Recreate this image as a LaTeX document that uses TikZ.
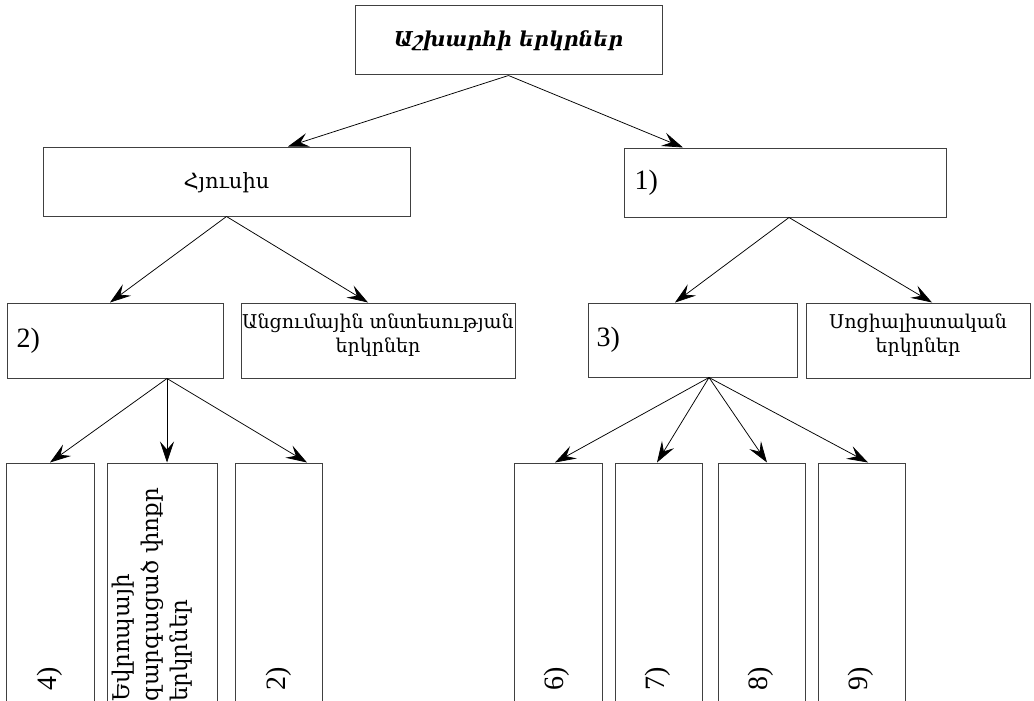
\documentclass[tikz,border=0pt]{standalone}
\usepackage{fontspec}
\setmainfont{Liberation Serif}
\newfontfamily\arm{DejaVu Serif}
\usetikzlibrary{arrows.meta}
\begin{document}
\begin{tikzpicture}[x=1pt,y=-1pt,
  box/.style={draw=black!75, line width=1pt, rectangle, inner sep=0pt},
  arr/.style={-{Stealth[length=21pt,width=14pt,inset=8pt]}, line width=0.75pt, black},
  armtxt/.style={font=\arm\fontsize{19}{24}\selectfont, align=center, inner sep=0pt},
  numtxt/.style={font=\fontsize{28}{30}\selectfont, inner sep=0pt}]
\useasboundingbox (0,0) rectangle (1034,701);
% boxes
\node[box, minimum width=307, minimum height=69] (top) at (508.5,40.5) {};
\node[box, minimum width=367, minimum height=69] (hy) at (226.5,181.5) {};
\node[box, minimum width=322, minimum height=69] (one) at (785,182.5) {};
\node[box, minimum width=216, minimum height=75] (two) at (115,340.5) {};
\node[box, minimum width=274, minimum height=75] (anc) at (378,340.5) {};
\node[box, minimum width=209, minimum height=74] (three) at (692.5,340) {};
\node[box, minimum width=224, minimum height=75] (soc) at (918,340.5) {};
\node[box, minimum width=88, minimum height=257] (b4) at (50,591.5) {};
\node[box, minimum width=110, minimum height=257] (b5) at (162,591.5) {};
\node[box, minimum width=87, minimum height=257] (b2) at (278.5,591.5) {};
\node[box, minimum width=88, minimum height=257] (b6) at (558,591.5) {};
\node[box, minimum width=87, minimum height=257] (b7) at (658.5,591.5) {};
\node[box, minimum width=87, minimum height=257] (b8) at (761.5,591.5) {};
\node[box, minimum width=87, minimum height=257] (b9) at (861.5,591.5) {};
% texts
\node[armtxt, font=\arm\bfseries\itshape\fontsize{20.5}{24}\selectfont] (ttop) at (top) {Աշխարհի երկրներ};
\node[armtxt, font=\arm\fontsize{21}{24}\selectfont] (thy) at ([yshift=-1]hy) {Հյուսիս};
\node[numtxt, anchor=west] (tone) at ([xshift=11]one.west) {1)};
\node[numtxt, anchor=west] (ttwo) at ([xshift=10]two.west) {2)};
\node[numtxt, anchor=west] (tthree) at ([xshift=9]three.west) {3)};
\node[armtxt, anchor=north] (tanc) at ([yshift=-11]anc.north) {Անցումային տնտեսության\\երկրներ};
\node[armtxt, anchor=north] (tsoc) at ([yshift=-11]soc.north) {Սոցիալիստական\\երկրներ};
\node[numtxt, rotate=90] (t4) at (50,679) {4)};
\node[armtxt, rotate=90, anchor=north west, align=left, font=\arm\fontsize{23}{29}\selectfont] (t5) at (112,702) {Եվրոպայի\\զարգացած փոքր\\երկրներ};
\node[numtxt, rotate=90] (t2b) at (279,679) {2)};
\node[numtxt, rotate=90] (t6) at (557,679) {6)};
\node[numtxt, rotate=90] (t7) at (658,679) {7)};
\node[numtxt, rotate=90] (t8) at (761,679) {8)};
\node[numtxt, rotate=90] (t9) at (861,679) {9)};
% arrows
\draw[arr] (top.south) -- ([xshift=61.5]hy.north);
\draw[arr] (top.south) -- ([xshift=-102]one.north);
\draw[arr] (hy.south) -- ([xshift=-5]two.north);
\draw[arr] (hy.south) -- ([xshift=-10]anc.north);
\draw[arr] ([xshift=4]one.south) -- ([xshift=-17.5]three.north);
\draw[arr] ([xshift=4]one.south) -- ([xshift=14]soc.north);
\draw[arr] ([xshift=52]two.south) -- (b4.north);
\draw[arr] ([xshift=52]two.south) -- ([xshift=5]b5.north);
\draw[arr] ([xshift=52]two.south) -- ([xshift=28.5]b2.north);
\draw[arr] ([xshift=16.5]three.south) -- ([xshift=-3]b6.north);
\draw[arr] ([xshift=16.5]three.south) -- ([xshift=-1.5]b7.north);
\draw[arr] ([xshift=16.5]three.south) -- ([xshift=5.5]b8.north);
\draw[arr] ([xshift=16.5]three.south) -- ([xshift=6.5]b9.north);
\end{tikzpicture}
\end{document}
